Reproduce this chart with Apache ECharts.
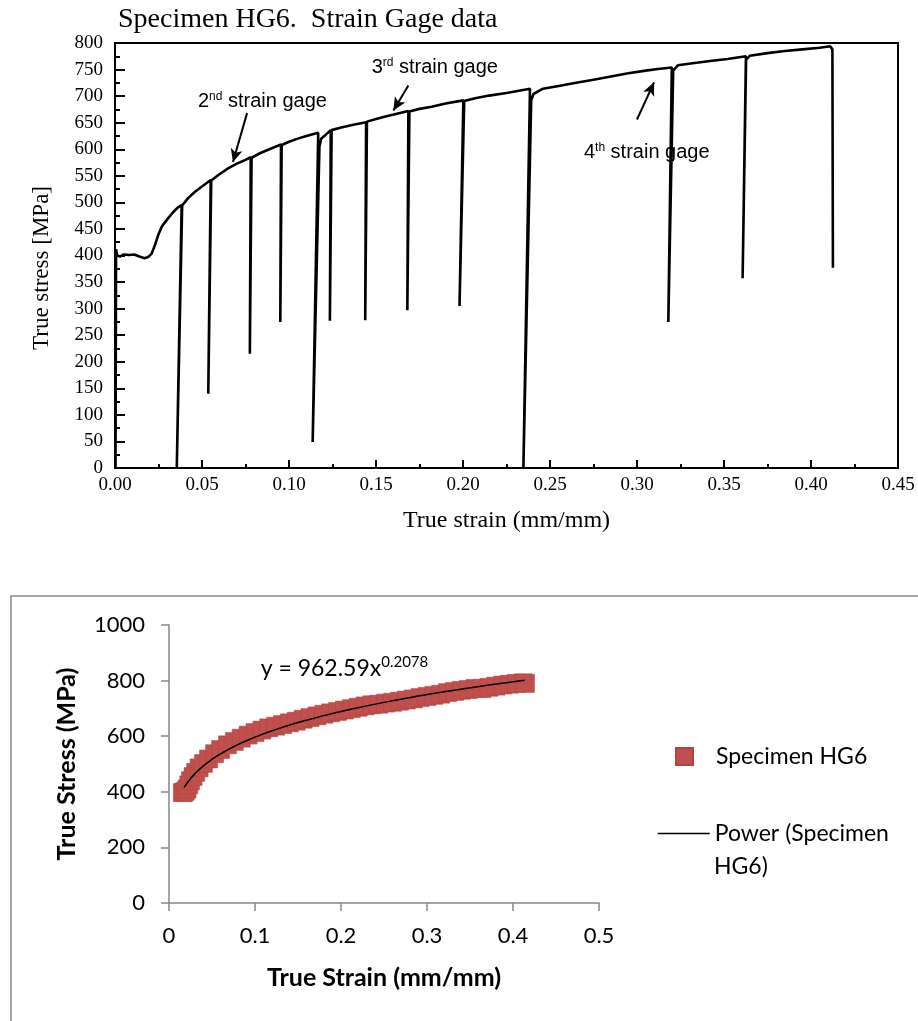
<!DOCTYPE html>
<html><head><meta charset="utf-8">
<script src="https://cdn.jsdelivr.net/npm/echarts@6/dist/echarts.min.js"></script>
<style>html,body{margin:0;padding:0;background:#fff}#c{width:918px;height:1021px}</style>
</head><body><div id="c"></div>
<script>
// ---------- Top chart: strain gage data (strain, stress) ----------
const topStrain = [0.0003, 0.0006, 0.0012, 0.003, 0.005, 0.008, 0.011, 0.014, 0.017, 0.019, 0.021, 0.023, 0.025, 0.027, 0.030, 0.033, 0.036, 0.0383, 0.0355, 0.0386, 0.042, 0.046, 0.050, 0.055, 0.0536, 0.0553, 0.060, 0.065, 0.070, 0.075, 0.078, 0.0775, 0.0785, 0.083, 0.088, 0.0954, 0.095, 0.0958, 0.100, 0.105, 0.110, 0.1168, 0.1136, 0.1175, 0.1185, 0.121, 0.124, 0.1235, 0.1245, 0.130, 0.137, 0.1443, 0.1438, 0.1448, 0.150, 0.156, 0.162, 0.1686, 0.168, 0.1692, 0.175, 0.182, 0.190, 0.2002, 0.198, 0.2007, 0.207, 0.215, 0.225, 0.2385, 0.2347, 0.2392, 0.2405, 0.246, 0.255, 0.265, 0.275, 0.285, 0.295, 0.305, 0.312, 0.320, 0.318, 0.3208, 0.3235, 0.332, 0.342, 0.352, 0.3626, 0.3607, 0.3627, 0.3648, 0.375, 0.385, 0.395, 0.405, 0.411, 0.4123, 0.4126];
const topStress = [0, 412, 400, 398, 402, 401, 402, 398, 395, 397, 403, 420, 440, 455, 468, 480, 490, 495, 0, 494, 508, 520, 530, 542, 140, 541, 553, 564, 573, 580, 585, 215, 584, 592, 599, 609, 275, 608, 614, 620, 625, 631, 49, 605, 620, 627, 636, 277, 636, 641, 646, 651, 278, 652, 657, 662, 667, 672, 297, 671, 676, 680, 686, 692, 305, 691, 696, 701, 706, 714, 0, 692, 704, 714, 719, 725, 731, 737, 743, 748, 751, 754, 275, 748, 758, 762, 766, 770, 775, 357, 768, 776, 781, 785, 788, 791, 794, 788, 377];

// gage annotations (data coordinates)
const gageLabels = [
  {num: '2', sup: 'nd', strain: 0.0477, stress: 690},
  {num: '3', sup: 'rd', strain: 0.1475, stress: 754},
  {num: '4', sup: 'th', strain: 0.2695, stress: 594}
];
const gageArrows = [
  [[0.0759, 668], [0.0678, 576]],
  [[0.1686, 720], [0.1600, 673]],
  [[0.3000, 656], [0.3098, 726]]
];

// ---------- Bottom chart: Excel scatter + power fit ----------
const scatterStrain = [0.0155, 0.017, 0.019, 0.021, 0.023, 0.025, 0.028, 0.031, 0.035, 0.040, 0.046, 0.053, 0.060, 0.068, 0.076, 0.084, 0.092, 0.100, 0.108, 0.116, 0.124, 0.132, 0.140, 0.148, 0.156, 0.164, 0.172, 0.180, 0.188, 0.196, 0.204, 0.212, 0.220, 0.228, 0.236, 0.244, 0.252, 0.260, 0.268, 0.276, 0.284, 0.292, 0.300, 0.308, 0.316, 0.324, 0.332, 0.340, 0.348, 0.356, 0.364, 0.372, 0.380, 0.388, 0.396, 0.404, 0.412, 0.4145];
const scatterStress = [397, 398, 402, 410, 425, 440, 455, 470, 486, 502, 518, 537, 552, 569, 581, 593, 604, 613, 622, 630, 636, 642, 648, 654, 661, 667, 673, 679, 684, 689, 694, 699, 704, 709, 713, 715, 719, 722, 726, 730, 734, 739, 743, 747, 751, 757, 761, 765, 768, 772, 771, 776, 780, 784, 787, 790, 792, 790];
const fitStrain = [0.0174, 0.02, 0.025, 0.03, 0.04, 0.05, 0.06, 0.08, 0.10, 0.12, 0.15, 0.18, 0.21, 0.25, 0.29, 0.33, 0.37, 0.4136];
const fitStress = [414.8, 427.0, 447.3, 464.5, 493.1, 516.6, 536.5, 569.6, 596.5, 619.6, 649.0, 674.0, 696.0, 721.7, 744.3, 764.5, 782.9, 801.3];
const fitEquation = {main: 'y = 962.59x', sup: '0.2078', strain: 0.1066, stress: 842};

const topTitle = 'Specimen HG6.  Strain Gage data';
const topXName = 'True strain (mm/mm)';
const topYName = 'True stress [MPa]';
const botXName = 'True Strain (mm/mm)';
const botYName = 'True Stress (MPa)';
const seriesName = 'Specimen HG6';
const fitName = 'Power (Specimen HG6)';
const fitLegendLines = ['Power (Specimen', 'HG6)'];

const zip = (a, b) => a.map((v, i) => [v, b[i]]);
const serif = 'Liberation Serif';
const sans = 'Liberation Sans';
const cal = 'Lato';

const chart = echarts.init(document.getElementById('c'), null, {renderer: 'canvas'});

const option = {
  animation: false,
  backgroundColor: '#fff',
  textStyle: {color: '#000'},
  grid: [
    {left: 115, top: 43, width: 783, height: 425, show: true, borderColor: '#000', borderWidth: 2, backgroundColor: 'rgba(0,0,0,0)'},
    {left: 169, top: 625, width: 430, height: 278}
  ],
  xAxis: [
    {
      gridIndex: 0, type: 'value', min: 0, max: 0.45, interval: 0.05,
      axisLine: {lineStyle: {color: '#000', width: 2}},
      axisTick: {inside: true, length: 8, lineStyle: {color: '#000', width: 2}},
      minorTick: {show: true, splitNumber: 2, length: 4, lineStyle: {color: '#000', width: 2}},
      splitLine: {show: false},
      axisLabel: {formatter: v => v.toFixed(2), fontFamily: serif, fontSize: 19, color: '#000', margin: 8},
      name: topXName, nameLocation: 'middle', nameGap: 41,
      nameTextStyle: {fontFamily: serif, fontSize: 24, color: '#000'}
    },
    {
      gridIndex: 1, type: 'value', min: 0, max: 0.5, interval: 0.1,
      axisLine: {lineStyle: {color: '#868686', width: 1.5}},
      axisTick: {length: 8, lineStyle: {color: '#868686', width: 1.5}},
      splitLine: {show: false},
      axisLabel: {fontFamily: cal, fontSize: 22, color: '#000', margin: 22},
      name: botXName, nameLocation: 'middle', nameGap: 62,
      nameTextStyle: {fontFamily: cal, fontSize: 25, fontWeight: 'bold', color: '#000'}
    }
  ],
  yAxis: [
    {
      gridIndex: 0, type: 'value', min: 0, max: 800, interval: 50,
      axisLine: {lineStyle: {color: '#000', width: 2}},
      axisTick: {inside: true, length: 10, lineStyle: {color: '#000', width: 2}},
      minorTick: {show: true, splitNumber: 2, length: 5, lineStyle: {color: '#000', width: 2}},
      splitLine: {show: false},
      axisLabel: {fontFamily: serif, fontSize: 19, color: '#000', margin: 12}
    },
    {
      gridIndex: 1, type: 'value', min: 0, max: 1000, interval: 200,
      axisLine: {show: true, lineStyle: {color: '#868686', width: 1.5}},
      axisTick: {show: true, length: 8, lineStyle: {color: '#868686', width: 1.5}},
      splitLine: {show: false},
      axisLabel: {formatter: v => String(v), fontFamily: cal, fontSize: 22, color: '#000', margin: 24},
      name: botYName, nameLocation: 'middle', nameGap: 90, nameRotate: 90,
      nameTextStyle: {fontFamily: cal, fontSize: 25, fontWeight: 'bold', color: '#000'}
    }
  ],
  legend: [
    {
      data: [seriesName], left: 670, top: 740, orient: 'vertical',
      itemWidth: 17, itemHeight: 17, icon: 'rect',
      textStyle: {fontFamily: cal, fontSize: 23, color: '#000', padding: [0, 0, 0, 18]}
    },
    {
      data: [fitName], left: 652, top: 817, orient: 'vertical',
      itemWidth: 52, itemHeight: 14,
      itemStyle: {opacity: 0},
      lineStyle: {color: '#000', width: 1.5, opacity: 1},
      formatter: () => fitLegendLines[0],
      textStyle: {fontFamily: cal, fontSize: 23, color: '#000'}
    }
  ],
  graphic: [
    {type: 'text', x: 118, y: 20, style: {text: topTitle, fontFamily: serif, fontSize: 28, fill: '#000', align: 'left', verticalAlign: 'middle'}},
    {type: 'text', x: 42, y: 268, rotation: Math.PI / 2, style: {text: topYName, fontFamily: serif, fontSize: 23, fill: '#000', align: 'center', verticalAlign: 'middle'}},
    {type: 'text', x: 714, y: 867, style: {text: fitLegendLines[1], fontFamily: cal, fontSize: 23, fill: '#000', align: 'left', verticalAlign: 'middle'}},
    {type: 'rect', shape: {x: 11, y: 596, width: 1000, height: 600}, style: {fill: 'none', stroke: '#8c8c8c', lineWidth: 1.5}, z: -1}
  ],
  series: [
    {
      name: 'Strain gage data', type: 'line', xAxisIndex: 0, yAxisIndex: 0,
      data: zip(topStrain, topStress), symbol: 'none', smooth: false,
      lineStyle: {color: '#000', width: 2.6}, z: 3,
      markLine: {
        silent: true, symbol: ['none', 'arrow'], symbolSize: [9, 13],
        lineStyle: {color: '#000', width: 2, type: 'solid'}, label: {show: false},
        data: gageArrows.map(a => [{coord: a[0]}, {coord: a[1]}])
      },
      markPoint: {
        silent: true, symbol: 'rect', symbolSize: 0,
        data: gageLabels.map(g => ({
          coord: [g.strain, g.stress],
          label: {
            show: true, position: 'right', distance: 0,
            formatter: '{a|' + g.num + '}{b|' + g.sup + '}{a| strain gage}',
            rich: {
              a: {fontFamily: sans, fontSize: 20, color: '#000'},
              b: {fontFamily: sans, fontSize: 12, color: '#000', padding: [0, 0, 10, 0]}
            }
          }
        }))
      }
    },
    {
      name: seriesName, type: 'scatter', xAxisIndex: 1, yAxisIndex: 1,
      data: zip(scatterStrain, scatterStress), symbol: 'rect', symbolSize: 18,
      itemStyle: {color: '#C0504D', borderColor: '#B5443F', borderWidth: 0.5, opacity: 1}, z: 2
    },
    {
      name: fitName, type: 'line', xAxisIndex: 1, yAxisIndex: 1,
      data: zip(fitStrain, fitStress), symbol: 'none', smooth: true,
      lineStyle: {color: '#000', width: 1.5}, itemStyle: {color: '#000'}, z: 4,
      markPoint: {
        silent: true, symbol: 'rect', symbolSize: 0,
        data: [{
          coord: [fitEquation.strain, fitEquation.stress],
          label: {
            show: true, position: 'right', distance: 0,
            formatter: '{a|' + fitEquation.main + '}{b|' + fitEquation.sup + '}',
            rich: {
              a: {fontFamily: cal, fontSize: 23, color: '#000'},
              b: {fontFamily: cal, fontSize: 15, color: '#000', padding: [0, 0, 13, 0]}
            }
          }
        }]
      }
    }
  ]
};
chart.setOption(option);
</script>
</body></html>
